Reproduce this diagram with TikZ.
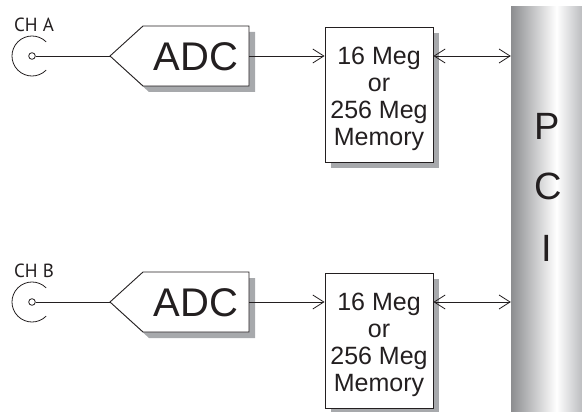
\documentclass[tikz,border=0pt]{standalone}
\usepackage{fontspec}
\setmainfont{Liberation Sans}
\newfontfamily\chfont{PT Sans}
\usetikzlibrary{arrows.meta,shadows,calc}
\definecolor{ink}{RGB}{35,31,32}
\definecolor{shadowc}{RGB}{167,169,172}
\definecolor{barL}{RGB}{140,141,144}
\definecolor{barR}{RGB}{188,189,192}
\pgfdeclarehorizontalshading{pcibar}{100bp}{color(0bp)=(barL); color(25bp)=(barL); color(57bp)=(white); color(75bp)=(barR); color(100bp)=(barR)}
\begin{document}
\begin{tikzpicture}[x=1pt,y=-1pt,
  sig/.style={draw=ink, line width=0.8pt},
  arr/.style={sig, -{Straight Barb[length=11pt,width=14pt]}},
  barr/.style={sig, {Straight Barb[length=11pt,width=14pt]}-{Straight Barb[length=11pt,width=14pt]}},
  membox/.style={draw=ink, fill=white, line width=0.9pt, minimum width=108pt, minimum height=135pt, inner sep=0pt, drop shadow={shadow xshift=6pt, shadow yshift=-6pt, fill=shadowc, opacity=1}},
  memtext/.style={align=center, font=\fontsize{25}{27}\selectfont, text=ink, inner sep=0pt},
  adcstyle/.style={font=\fontsize{40}{40}\selectfont, text=ink, inner sep=0pt},
  adcshape/.style={draw=ink, fill=white, line width=0.9pt},
  adcshadow/.style={fill=shadowc},
  chstyle/.style={font=\chfont\fontsize{19}{20}\selectfont, text=ink, inner sep=0pt},
  jackstyle/.style={draw=ink, circle, minimum size=6.6pt, inner sep=0pt, line width=0.8pt},
  pcistyle/.style={shade, shading=pcibar, minimum width=71pt, minimum height=405pt, inner sep=0pt},
  pcitext/.style={font=\fontsize{38}{38}\selectfont, text=ink, inner sep=0pt}
]
\useasboundingbox (0,0) rectangle (582,412);
\node[pcistyle] (pci) at (546.5,209.5) {};
\node[pcitext] (pciP) at (547,126) {P};
\node[pcitext] (pciC) at (548,186) {C};
\node[pcitext] (pciI) at (547,248) {I};
\foreach \ch/\dy in {A/0,B/246}{
\begin{scope}[shift={(0,\dy)}]
  \node[chstyle] (ch\ch) at (34,25) {CH \ch};
  \node[jackstyle] (jack\ch) at (32,56) {};
  \draw[sig] ($(jack\ch)+(45:20)$) arc[start angle=45, end angle=315, radius=20];
  \coordinate (in\ch) at (110,56);
  \coordinate (out\ch) at (249,56);
  \fill[adcshadow] (116,62) -- (149,32) -- (255,32) -- (255,92) -- (149,92) -- cycle;
  \draw[adcshape] (in\ch) -- (143,26) -- (249,26) -- (249,86) -- (143,86) -- cycle;
  \node[adcstyle] (adc\ch) at (196,57) {ADC};
  \node[membox] (mem\ch) at (379,94.5) {};
  \node[memtext] (memt\ch) at (379,99) {16 Meg\\or\\256 Meg\\Memory};
  \draw[sig] (jack\ch.east) -- (in\ch);
  \draw[arr] (out\ch) -- (mem\ch.west |- out\ch);
  \draw[barr] (mem\ch.east |- out\ch) -- (pci.west |- out\ch);
\end{scope}
}
\end{tikzpicture}
\end{document}
